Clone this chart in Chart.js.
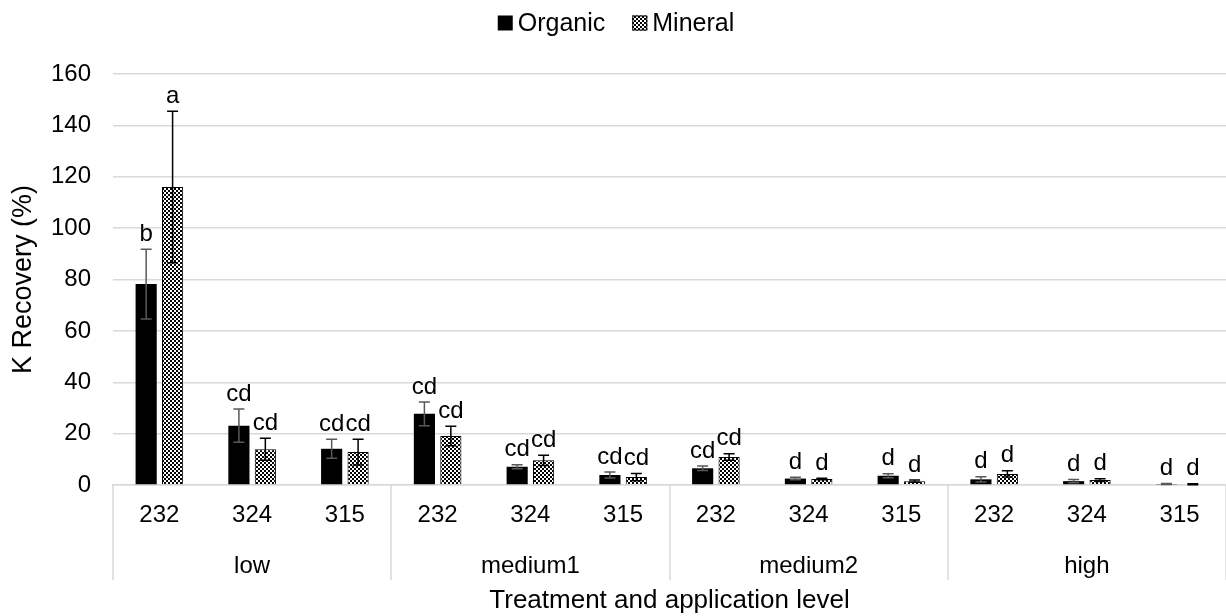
<!DOCTYPE html>
<html lang="en">
<head>
<meta charset="UTF-8">
<title>K Recovery</title>
<style>
body { margin:0; padding:0; background:#fff; }
#wrap { width:1226px; height:616px; }
</style>
</head>
<body>
<div id="wrap"><canvas id="chart"></canvas></div>

<script src="https://cdn.jsdelivr.net/npm/chart.js"></script>
<script>
// data
const treatments = ['232', '324', '315'];
const levels = ['low', 'medium1', 'medium2', 'high'];
const organic    = [78.2, 23.1, 14.1, 27.7, 7.1, 3.9, 6.5, 2.5, 3.6, 2.2, 1.5, 0.4];
const organicErr = [13.6, 6.5, 3.7, 4.6, 0.8, 1.2, 0.9, 0.5, 0.8, 1.0, 0.6, 0.2];
const mineral    = [116.0, 13.9, 12.8, 19.1, 9.6, 3.1, 10.9, 2.3, 1.5, 4.3, 1.9, 0.3];
const mineralErr = [29.5, 4.3, 5.0, 3.8, 2.0, 1.4, 1.3, 0.3, 0.4, 1.2, 0.5, 0.2];
const organicLetters = ['b', 'cd', 'cd', 'cd', 'cd', 'cd', 'cd', 'd', 'd', 'd', 'd', 'd'];
const mineralLetters = ['a', 'cd', 'cd', 'cd', 'cd', 'cd', 'cd', 'd', 'd', 'd', 'd', 'd'];
const yTicks = [0, 20, 40, 60, 80, 100, 120, 140, 160];

const FONT = '"Liberation Sans", Arial, sans-serif';
const GRID = '#d9d9d9';

const labels = levels.flatMap(() => treatments);

// checker fill for the mineral bars
function makePattern() {
  const c = document.createElement('canvas');
  c.width = 4; c.height = 4;
  const g = c.getContext('2d');
  g.fillStyle = '#000';
  g.fillRect(0, 0, 4, 4);
  g.fillStyle = '#fff';
  g.fillRect(0, 0, 2, 2);
  g.fillRect(2, 2, 2, 2);
  return g.createPattern(c, 'repeat');
}
const pattern = makePattern();

// error bars, letters, x group labels, legend
const extras = {
  id: 'extras',
  afterDatasetsDraw(chart) {
    const ctx = chart.ctx;
    const y = chart.scales.y;
    const sets = [
      { err: organicErr, letters: organicLetters, color: '#595959' },
      { err: mineralErr, letters: mineralLetters, color: '#000' }
    ];
    ctx.save();
    sets.forEach((s, di) => {
      const meta = chart.getDatasetMeta(di);
      const vals = chart.data.datasets[di].data;
      meta.data.forEach((bar, i) => {
        const top = y.getPixelForValue(vals[i] + s.err[i]);
        const bot = y.getPixelForValue(Math.max(vals[i] - s.err[i], 0));
        ctx.strokeStyle = s.color;
        ctx.lineWidth = 1.5;
        ctx.beginPath();
        ctx.moveTo(bar.x, top); ctx.lineTo(bar.x, bot);
        ctx.moveTo(bar.x - 5.5, top); ctx.lineTo(bar.x + 5.5, top);
        ctx.moveTo(bar.x - 5.5, bot); ctx.lineTo(bar.x + 5.5, bot);
        ctx.stroke();
        ctx.fillStyle = '#000';
        ctx.font = '24px ' + FONT;
        ctx.textAlign = 'center';
        ctx.textBaseline = 'middle';
        ctx.fillText(s.letters[i], bar.x, top - 15);
      });
    });
    ctx.restore();
  },
  afterDraw(chart) {
    const ctx = chart.ctx;
    const x = chart.scales.x;
    const base = chart.chartArea.bottom;
    ctx.save();
    ctx.strokeStyle = GRID;
    ctx.lineWidth = 1.5;
    for (let g = 0; g <= levels.length; g++) {
      const px = Math.round(x.getPixelForValue(g * treatments.length - 0.5));
      ctx.beginPath();
      ctx.moveTo(px, base);
      ctx.lineTo(px, base + 95);
      ctx.stroke();
    }
    ctx.fillStyle = '#000';
    ctx.font = '24px ' + FONT;
    ctx.textAlign = 'center';
    ctx.textBaseline = 'middle';
    levels.forEach((lv, g) => {
      const px = x.getPixelForValue(g * treatments.length + 1);
      ctx.fillText(lv, px, base + 81);
    });

    // legend
    ctx.font = '25px ' + FONT;
    ctx.textAlign = 'left';
    const items = chart.data.datasets.map(d => ({ text: d.label, fill: d.backgroundColor, bw: d.borderWidth }));
    const box = 15, gap = 5, space = 27;
    let total = 0;
    items.forEach((it, i) => { it.w = ctx.measureText(it.text).width; total += box + gap + it.w + (i ? space : 0); });
    let lx = chart.width / 2 - total / 2 + 3;
    const ly = 23;
    items.forEach(it => {
      ctx.fillStyle = it.fill;
      ctx.fillRect(lx, ly - box / 2, box, box);
      if (it.bw) { ctx.strokeStyle = '#000'; ctx.lineWidth = 1; ctx.strokeRect(lx + 0.5, ly - box / 2 + 0.5, box - 1, box - 1); }
      ctx.fillStyle = '#000';
      ctx.fillText(it.text, lx + box + gap, ly + 1);
      lx += box + gap + it.w + space;
    });
    ctx.restore();
  }
};

new Chart(document.getElementById('chart'), {
  type: 'bar',
  data: {
    labels: labels,
    datasets: [
      { label: 'Organic', data: organic, backgroundColor: '#000', borderColor: '#000', borderWidth: 0,
        categoryPercentage: 0.57, barPercentage: 0.8 },
      { label: 'Mineral', data: mineral, backgroundColor: pattern, borderColor: '#000', borderWidth: 1,
        categoryPercentage: 0.57, barPercentage: 0.8 }
    ]
  },
  options: {
    responsive: true,
    maintainAspectRatio: false,
    animation: false,
    layout: { padding: { top: 74 } },
    plugins: {
      legend: { display: false },
      tooltip: { enabled: false }
    },
    scales: {
      x: {
        grid: { display: false, drawTicks: false },
        border: { display: true, color: GRID, width: 1.5 },
        ticks: { font: { family: FONT, size: 24 }, color: '#000', padding: 16, maxRotation: 0, autoSkip: false },
        title: { display: true, text: 'Treatment and application level', font: { family: FONT, size: 26 }, color: '#000', padding: 0 },
        afterFit(s) { s.height = 131; }
      },
      y: {
        min: 0, max: 160,
        afterBuildTicks(s) { s.ticks = yTicks.map(v => ({ value: v })); },
        grid: { color: GRID, lineWidth: 1.5, drawTicks: false },
        border: { display: false },
        ticks: { font: { family: FONT, size: 24 }, color: '#000', padding: 22 },
        title: { display: true, text: 'K Recovery (%)', font: { family: FONT, size: 27 }, color: '#000', padding: 7 },
        afterFit(s) { s.width = 113; }
      }
    }
  },
  plugins: [extras]
});
</script>
</body>
</html>
